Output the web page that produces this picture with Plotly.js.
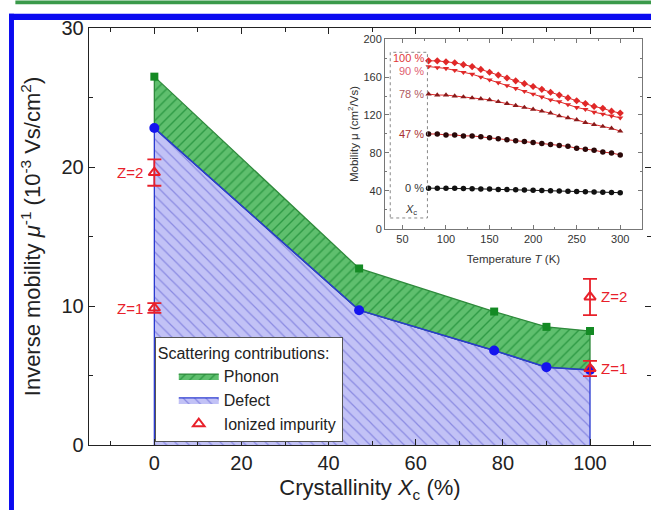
<!DOCTYPE html>
<html><head><meta charset="utf-8">
<script src="https://cdn.plot.ly/plotly-3.0.1.min.js"></script>
<style>html,body{margin:0;padding:0;background:#fff;overflow:hidden}</style>
</head><body><div id="chart" style="width:651px;height:510px"></div>
<script>
// Main chart data
const crystallinity = [0, 47, 78, 90, 100];
const phonon = [26.5, 12.7, 9.6, 8.5, 8.2];
const defect = [22.8, 9.7, 6.8, 5.6, 5.4];
const ionX = [0, 0, 100, 100];
const ionY = [19.6, 9.85, 10.65, 5.5];
const ionErr = [0.95, 0.35, 1.3, 0.55];
const ionLabels = ['Z=2', 'Z=1', 'Z=2', 'Z=1'];

// Inset data
const temperature = [80,90,100,110,120,130,140,150,160,170,180,190,200,210,220,230,240,250,260,270,280,290,300];
const mob100 = [177,177,176,175,173,171,168,165,162,159,156,153,150,147,144,141,138,135,132,129,127,124,122];
const mob90 = [171,170,169,167,165,163,160,157,154,151,148,145,142,139,136,134,131,128,126,123,121,119,117];
const mob78 = [142,141,141,140,139,138,137,136,134,132,130,128,126,124,122,119,117,115,112,110,108,106,103];
const mob47 = [100,100,99,99,98,98,97,96,95,94,93,92,91,90,89,88,87,85,84,83,81,80,78];
const mob0 = [43,43,43,42.8,42.6,42.4,42.2,42,41.7,41.5,41.2,41,40.8,40.5,40.3,40,39.8,39.5,39.2,39,38.8,38.5,38.2];
const insetLabels = ['100 %', '90 %', '78 %', '47 %', '0 %'];

const FONT = 'Liberation Sans, Arial, sans-serif';
const RED = '#e8202a';

const revX = crystallinity.slice().reverse();
const traces = [];

// Defect region (blue hatched) polygon from data
traces.push({
  x: [crystallinity[0]].concat(crystallinity, [crystallinity[crystallinity.length-1]]),
  y: [0].concat(defect, [0]),
  mode: 'lines', fill: 'toself', name: 'Defect',
  line: {color: '#2a3ad0', width: 1.3},
  fillcolor: '#c2c2f6',
  fillpattern: {shape: '\\', bgcolor: '#c2c2f6', fgcolor: '#8a8ae2', size: 8, solidity: 0.15},
  hoverinfo: 'skip', legendrank: 2
});
// Phonon region (green hatched)
traces.push({
  x: crystallinity.concat(revX, [crystallinity[0]]),
  y: phonon.concat(defect.slice().reverse(), [phonon[0]]),
  mode: 'lines', fill: 'toself', name: 'Phonon',
  line: {color: '#2f8a3c', width: 1.3},
  fillcolor: '#5fbf6e',
  fillpattern: {shape: '/', bgcolor: '#5fbf6e', fgcolor: '#2e9a45', size: 7, solidity: 0.2},
  hoverinfo: 'skip', legendrank: 1
});
// Markers
traces.push({x: crystallinity, y: phonon, mode: 'markers', showlegend: false,
  marker: {symbol: 'square', size: 8, color: '#148a24'}});
traces.push({x: crystallinity, y: defect, mode: 'lines+markers', showlegend: false,
  line: {color: '#2a3ad0', width: 1.5},
  marker: {symbol: 'circle', size: 10, color: '#1414ee'}});
// Ionized impurity
traces.push({x: ionX, y: ionY, mode: 'markers', name: 'Ionized impurity', legendrank: 3,
  marker: {symbol: 'triangle-up-open', size: 10, color: RED, line: {width: 2, color: RED}},
  error_y: {type: 'data', array: ionErr, visible: true, color: RED, thickness: 1.8, width: 7}});

// Inset traces
const insetSeries = [
  {y: mob100, sym: 'diamond', mc: '#e02828', lc: '#e02828', shift: 3},
  {y: mob90, sym: 'triangle-down', mc: '#e02828', lc: '#e02828', shift: -4},
  {y: mob78, sym: 'triangle-up', mc: '#8a1a1a', lc: '#e02828', shift: 0},
  {y: mob47, sym: 'circle', mc: '#2a0808', lc: '#d02020', shift: 0},
  {y: mob0, sym: 'circle', mc: '#111111', lc: '#111111', shift: 0}
];
insetSeries.forEach(s => {
  traces.push({x: temperature, y: s.y, xaxis: 'x2', yaxis: 'y2', mode: 'lines+markers',
    showlegend: false, line: {color: s.lc, width: 1},
    marker: {symbol: s.sym, size: 5.5, color: s.mc}});
});

const annotations = [];
ionLabels.forEach((t, i) => {
  const right = ionX[i] > 50;
  annotations.push({x: ionX[i], y: ionY[i], text: t, showarrow: false,
    xanchor: right ? 'left' : 'right', xshift: right ? 9 : -9, yshift: 0,
    font: {family: FONT, size: 15, color: RED}});
});
const insetLabelColors = ['#e03838', '#e06070', '#b05a60', '#a83030', '#333333'];
insetSeries.forEach((s, i) => {
  annotations.push({x: 78, y: s.y[0], xref: 'x2', yref: 'y2', text: insetLabels[i],
    showarrow: false, xanchor: 'right', xshift: -1, yshift: s.shift,
    font: {family: FONT, size: 11, color: insetLabelColors[i]}});
});
annotations.push({x: 60, y: 20, xref: 'x2', yref: 'y2', text: '<i>X</i><sub>c</sub>',
  showarrow: false, font: {family: FONT, size: 11, color: '#333'}});

const shapes = [
  // dotted box in inset
  {type: 'rect', xref: 'x2', yref: 'y2', x0: 36, x1: 78.7, y0: 11.6, y1: 186,
   line: {color: '#888', width: 1, dash: 'dot'}},
  // figure frame decorations
  {type: 'rect', xref: 'paper', yref: 'paper', x0: -0.1423, x1: -0.1335, y0: -0.16, y1: 1.034,
   fillcolor: '#0a0af0', line: {width: 0}},
  {type: 'rect', xref: 'paper', yref: 'paper', x0: -0.1423, x1: 1.01, y0: 1.019, y1: 1.034,
   fillcolor: '#0a0af0', line: {width: 0}},
  {type: 'rect', xref: 'paper', yref: 'paper', x0: -0.131, x1: 1.01, y0: 1.057, y1: 1.066,
   fillcolor: '#3a9a4a', line: {width: 0}}
];

const axisCommon = {showline: true, linecolor: '#222', linewidth: 1.3, mirror: 'ticks',
  ticks: 'inside', tickcolor: '#222', zeroline: false, showgrid: false};

const layout = {
  width: 651, height: 510,
  margin: {l: 89, r: 0, t: 28, b: 65},
  paper_bgcolor: '#fff', plot_bgcolor: 'rgba(0,0,0,0)',
  font: {family: FONT, color: '#222'},
  showlegend: true,
  legend: {x: 0.117, y: 0.258, xanchor: 'left', yanchor: 'top',
    bgcolor: '#fff', bordercolor: '#555', borderwidth: 1,
    indentation: 18, itemwidth: 40,
    title: {text: 'Scattering contributions:', font: {family: FONT, size: 16, color: '#222'}},
    font: {family: FONT, size: 16, color: '#222'}, traceorder: 'normal', tracegroupgap: 0},
  xaxis: Object.assign({}, axisCommon, {range: [-15, 114], tick0: 0, dtick: 20, ticklen: 6,
    minor: {dtick: 10, ticks: 'inside', ticklen: 4, tickcolor: '#222'},
    tickfont: {family: FONT, size: 20, color: '#222'},
    title: {text: 'Crystallinity <i>X</i><sub>c</sub> (%)', font: {family: FONT, size: 22, color: '#222'}, standoff: 6}}),
  yaxis: Object.assign({}, axisCommon, {range: [0, 30], dtick: 10, ticklen: 6,
    minor: {dtick: 5, ticks: 'inside', ticklen: 4, tickcolor: '#222'},
    tickfont: {family: FONT, size: 20, color: '#222'},
    title: {text: 'Inverse mobility <i>μ</i><sup>-1</sup> (10<sup>-3</sup> Vs/cm<sup>2</sup>)', font: {family: FONT, size: 22, color: '#222'}, standoff: 14}}),
  xaxis2: {domain: [0.5267, 0.984], anchor: 'y2', range: [30, 325], dtick: 50, tick0: 0,
    showline: true, linecolor: '#777', linewidth: 1, mirror: 'ticks', ticks: 'inside', ticklen: 4, tickcolor: '#777',
    minor: {dtick: 25, ticks: 'inside', ticklen: 2, tickcolor: '#777'},
    zeroline: false, showgrid: false,
    tickfont: {family: FONT, size: 11, color: '#333'},
    title: {text: 'Temperature <i>T</i> (K)', font: {family: FONT, size: 11.5, color: '#333'}, standoff: 10}},
  yaxis2: {domain: [0.518, 0.9736], anchor: 'x2', range: [0, 200], dtick: 40,
    showline: true, linecolor: '#777', linewidth: 1, mirror: 'ticks', ticks: 'inside', ticklen: 4, tickcolor: '#777',
    minor: {dtick: 20, ticks: 'inside', ticklen: 2, tickcolor: '#777'},
    zeroline: false, showgrid: false,
    tickfont: {family: FONT, size: 11, color: '#333'},
    title: {text: 'Mobility μ (cm<sup>2</sup>/Vs)', font: {family: FONT, size: 11.5, color: '#333'}, standoff: 2}},
  annotations: annotations,
  shapes: shapes
};

Plotly.newPlot('chart', traces, layout, {displayModeBar: false, staticPlot: true});
</script></body></html>
